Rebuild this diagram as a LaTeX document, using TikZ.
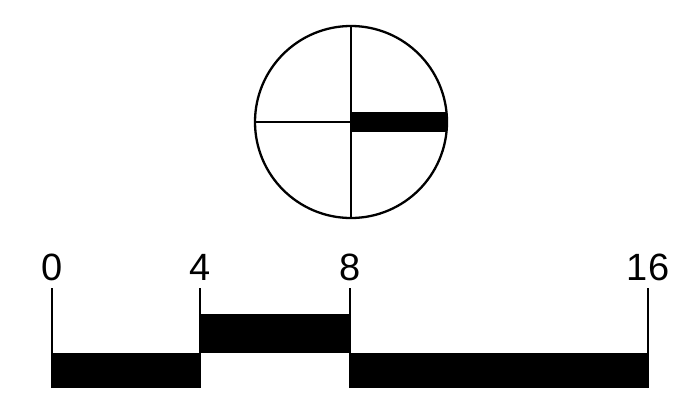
\documentclass[tikz,border=0pt]{standalone}
\usepackage{fontspec}
\setmainfont{Liberation Sans}
\usetikzlibrary{calc}

\begin{document}
\begin{tikzpicture}[x=1pt,y=-1pt,line width=2.3pt,
  numlabel/.style={anchor=base,inner sep=0pt,font=\fontsize{38}{40}\selectfont}]
  \useasboundingbox (0,0) rectangle (692,416);
  % circle with quarter lines
  \coordinate (c) at (351,122);
  \fill (351,112) rectangle (447,132);
  \draw (c) circle (96);
  \draw (351,26) -- (351,218);
  \draw (255,122) -- (c);
  % scale bar
  \fill (52,353) rectangle (200,388);
  \fill (200,314) rectangle (350,353);
  \fill (350,353) rectangle (648,388);
  \foreach \x/\v in {52/0,200/4,350/8,648/16} {
    \node[numlabel] (l\v) at (\x,280) {\v};
    \coordinate (t\v) at (\x,288);
    \coordinate (b\v) at (\x,388);
    \draw (b\v) -- (t\v);
  }
\end{tikzpicture}
\end{document}
